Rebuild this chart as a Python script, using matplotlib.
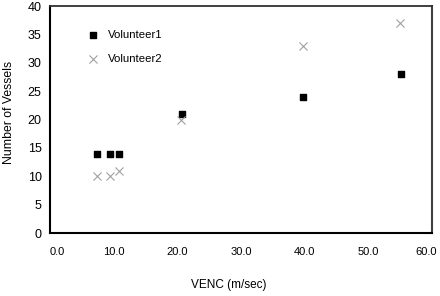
import matplotlib
matplotlib.use("Agg")
import matplotlib.pyplot as plt
from matplotlib.transforms import ScaledTranslation

plt.rcParams['font.family'] = ['Liberation Sans', 'DejaVu Sans']

v1_x = [7.4, 9.4, 10.8, 20.8, 39.7, 55.1]
v1_y = [14, 14, 14, 21, 24, 28]
v2_x = [7.4, 9.4, 10.8, 20.6, 39.7, 55.0]
v2_y = [10, 10, 11, 20, 33, 37]
xticks = [0, 10, 20, 30, 40, 50, 60]
yticks = [0, 5, 10, 15, 20, 25, 30, 35, 40]

fig = plt.figure(figsize=(4.4, 2.96), dpi=100)
ax = fig.add_axes([0.1136, 0.2128, 0.8682, 0.7669])
ax.scatter(v1_x, v1_y, marker='s', s=20, color='black', label='Volunteer1', zorder=3)
ax.scatter(v2_x, v2_y, marker='x', s=34, color='#a0a0a0', linewidths=0.8, label='Volunteer2', zorder=3)
ax.set_xlim(0, 60)
ax.set_ylim(0, 40)
ax.set_xticks(xticks)
ax.set_xticklabels([f"{t:.1f}" for t in xticks])
ax.set_yticks(yticks)
ax.tick_params(length=0)
ax.tick_params(axis='x', pad=10, labelsize=8)
ax.tick_params(axis='y', pad=6, labelsize=9)
labels = ax.get_xticklabels()
labels[0].set_transform(labels[0].get_transform() + ScaledTranslation(7 / 100, 0, fig.dpi_scale_trans))
labels[-1].set_transform(labels[-1].get_transform() + ScaledTranslation(-6 / 100, 0, fig.dpi_scale_trans))
for s in ['left', 'bottom']:
    ax.spines[s].set_linewidth(1.5)
    ax.spines[s].set_color('black')
ax.spines['top'].set_color('#303030')
ax.spines['top'].set_linewidth(1.3)
ax.spines['right'].set_color('#404040')
ax.spines['right'].set_linewidth(1.5)
fig.text(229 / 440, 1 - 285 / 296, 'VENC (m/sec)', fontsize=8.5, ha='center', va='center')
fig.text(9 / 440, 1 - 112 / 296, 'Number of Vessels', fontsize=8.8, ha='center', va='center', rotation=90)
ax.legend(loc='upper left', bbox_to_anchor=(0.07, 0.915), frameon=False, fontsize=8.2,
          handletextpad=0.3, labelspacing=1.2, borderaxespad=0)
fig.savefig('out.png', dpi=100)
